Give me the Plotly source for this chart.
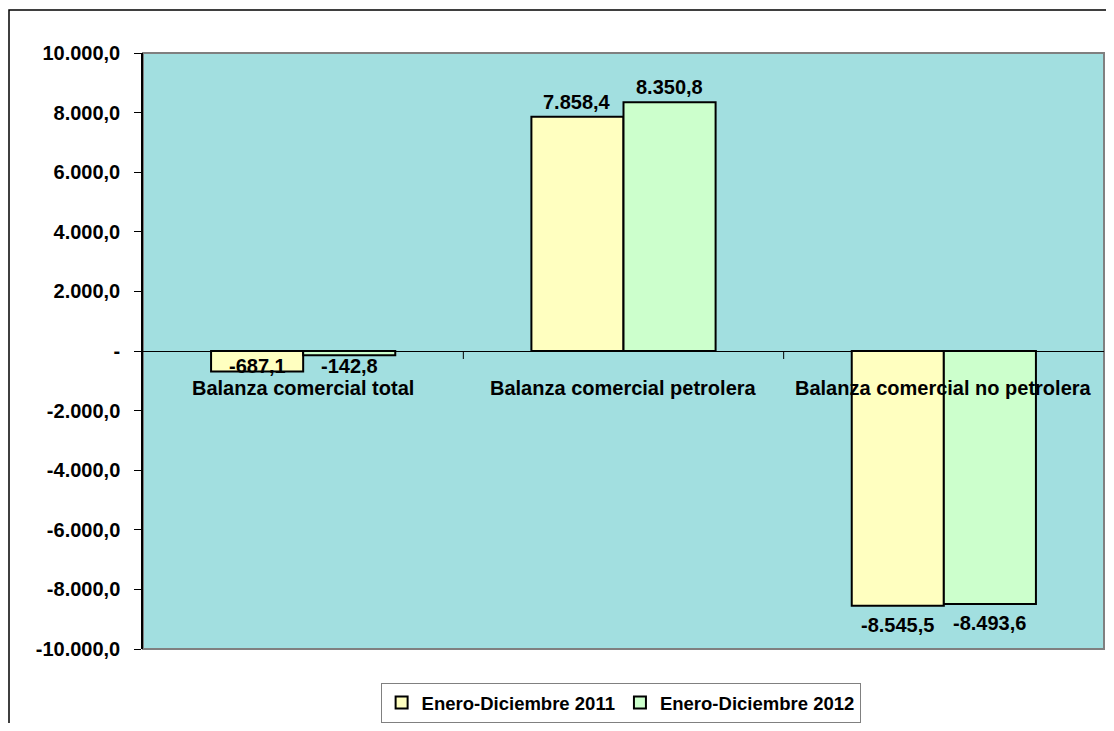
import plotly.graph_objects as go

categories = ["Balanza comercial total", "Balanza comercial petrolera", "Balanza comercial no petrolera"]
series_2011 = [-687.1, 7858.4, -8545.5]
series_2012 = [-142.8, 8350.8, -8493.6]
series_names = ["Enero-Diciembre 2011", "Enero-Diciembre 2012"]
tick_values = [-10000, -8000, -6000, -4000, -2000, 0, 2000, 4000, 6000, 8000, 10000]
tick_labels = ["-10.000,0", "-8.000,0", "-6.000,0", "-4.000,0", "-2.000,0", "-",
               "2.000,0", "4.000,0", "6.000,0", "8.000,0", "10.000,0"]

FONT = "Liberation Sans, Arial, sans-serif"
BG = "#A2DFE0"
COLORS = ["#FFFFC0", "#CCFFCC"]
BARGAP = 0.425


def fmt(v):
    s = format(abs(v), ",.1f").replace(",", "X").replace(".", ",").replace("X", ".")
    return ("-" if v < 0 else "") + s


xs = list(range(len(categories)))
fig = go.Figure()
for name, vals, col in zip(series_names, [series_2011, series_2012], COLORS):
    fig.add_trace(go.Bar(x=xs, y=vals, name=name,
                         marker=dict(color=col, line=dict(color="black", width=2))))

annotations = []
half = (1 - BARGAP) / 4
for k, vals in enumerate([series_2011, series_2012]):
    off = -half if k == 0 else half
    for i, v in enumerate(vals):
        if v >= 0:
            annotations.append(dict(x=i + off, y=v, text=fmt(v), showarrow=False,
                                    yanchor="bottom", yshift=2))
        elif v > -1000:
            annotations.append(dict(x=i + off, y=0, text=fmt(v), showarrow=False,
                                    yanchor="top", yshift=-2))
        else:
            annotations.append(dict(x=i + off, y=v, text=fmt(v), showarrow=False,
                                    yanchor="top", yshift=-6))
for i, c in enumerate(categories):
    annotations.append(dict(x=i, y=0, text=c, showarrow=False, yanchor="middle", yshift=-37))

shapes = [
    dict(type="rect", xref="paper", yref="paper", x0=0, x1=1, y0=0, y1=1,
         line=dict(color="#808080", width=2), layer="below"),
    dict(type="rect", xref="paper", yref="paper", x0=(1 - 135) / 961, x1=1.05,
         y0=-0.3, y1=(641 - 2) / 596, line=dict(color="black", width=1.5)),
]
for b in [0.5, 1.5]:
    shapes.append(dict(type="line", xref="x", yref="y", x0=b, x1=b, ysizemode="pixel",
                       yanchor=0, y0=0, y1=-8, line=dict(color="black", width=1)))

fig.update_layout(
    width=1098, height=715,
    margin=dict(l=135, r=2, t=45, b=74),
    paper_bgcolor="white", plot_bgcolor=BG,
    barmode="group", bargap=BARGAP, bargroupgap=0,
    font=dict(family=FONT, size=20, color="black", weight="bold"),
    xaxis=dict(range=[-0.5, 2.5], showticklabels=False, showgrid=False, zeroline=False,
               ticks="", showline=False),
    yaxis=dict(range=[-10000, 10000], tickvals=tick_values, ticktext=tick_labels,
               showgrid=False, zeroline=True, zerolinecolor="black", zerolinewidth=1,
               showline=True, linecolor="black", linewidth=1.5,
               ticks="outside", ticklen=7, tickcolor="black", ticklabelstandoff=10,
               tickfont=dict(size=20, family=FONT, weight="bold")),
    showlegend=True,
    legend=dict(orientation="h", xref="paper", x=0.497, xanchor="center",
                yref="container", y=-0.009, yanchor="bottom",
                bgcolor="white", bordercolor="#808080", borderwidth=1,
                font=dict(size=18.5, family=FONT, weight="bold"), traceorder="normal",
                itemwidth=30),
    annotations=annotations,
    shapes=shapes,
)

fig.write_html("out.html")
